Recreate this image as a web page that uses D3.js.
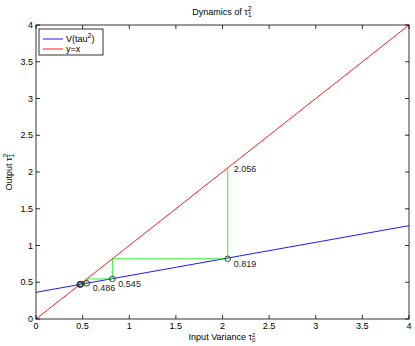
<!DOCTYPE html>
<html><head><meta charset="utf-8">
<script src="https://cdn.jsdelivr.net/npm/d3@7"></script>
<style>body{margin:0;background:#fff}svg{display:block;font-family:"Liberation Sans",Arial,sans-serif}</style>
</head><body><svg id="c" width="415" height="346"></svg>
<script>
// data
const xTicks = [0,0.5,1,1.5,2,2.5,3,3.5,4];
const yTicks = [0,0.5,1,1.5,2,2.5,3,3.5,4];
const vX = [0, 4];
const vY = [0.363, 1.27];
const identX = [0, 4];
const iterates = [2.056, 0.819, 0.545, 0.486, 0.474, 0.471, 0.470, 0.470];
const labelled = ["2.056","0.819","0.545","0.486"];

const svg = d3.select("#c");
const L=36, R=409, T=25, B=319;
const x = d3.scaleLinear().domain([0,4]).range([L,R]);
const y = d3.scaleLinear().domain([0,4]).range([B,T]);
const fs = 9;

svg.append("rect").attr("x",0).attr("y",0).attr("width",415).attr("height",346).attr("fill","#fff");

const line = d3.line().x(d=>x(d[0])).y(d=>y(d[1]));
// y=x
svg.append("path").datum(identX.map(v=>[v,v])).attr("d",line).attr("stroke","#ff0000").attr("fill","none").attr("stroke-width",0.9);
// V line
svg.append("path").datum(vX.map((v,i)=>[v,vY[i]])).attr("d",line).attr("stroke","#0000ff").attr("fill","none").attr("stroke-width",0.9);

// cobweb
const web=[];
for(let i=0;i<iterates.length-1;i++){
  const a=iterates[i], b=iterates[i+1];
  web.push([a,a]); web.push([a,b]);
}
web.push([iterates[iterates.length-1],iterates[iterates.length-1]]);
svg.append("path").datum(web).attr("d",line).attr("stroke","#00ee00").attr("fill","none").attr("stroke-width",0.8);

// circles
for(let i=0;i<iterates.length-1;i++){
  svg.append("circle").attr("cx",x(iterates[i])).attr("cy",y(iterates[i+1])).attr("r",2.8)
    .attr("fill","none").attr("stroke","#333").attr("stroke-width",0.9);
}
// labels
svg.append("text").attr("x",x(iterates[0])+6).attr("y",y(iterates[0])+4).attr("font-size",fs).attr("fill","#222").text(labelled[0]);
for(let i=1;i<4;i++){
  svg.append("text").attr("x",x(iterates[i-1])+6).attr("y",y(iterates[i])+8).attr("font-size",fs).attr("fill","#222").text(labelled[i]);
}

// axes box
svg.append("rect").attr("x",L).attr("y",T).attr("width",R-L).attr("height",B-T).attr("fill","none").attr("stroke","#000").attr("stroke-width",0.8);
const tk=4;
const g=svg.append("g").attr("stroke","#000").attr("stroke-width",0.8);
xTicks.forEach(v=>{
  g.append("line").attr("x1",x(v)).attr("x2",x(v)).attr("y1",B).attr("y2",B-tk);
  g.append("line").attr("x1",x(v)).attr("x2",x(v)).attr("y1",T).attr("y2",T+tk);
  svg.append("text").attr("x",x(v)).attr("y",B+10).attr("text-anchor","middle").attr("font-size",fs).text(String(v));
});
yTicks.forEach(v=>{
  g.append("line").attr("x1",L).attr("x2",L+tk).attr("y1",y(v)).attr("y2",y(v));
  g.append("line").attr("x1",R).attr("x2",R-tk).attr("y1",y(v)).attr("y2",y(v));
  svg.append("text").attr("x",L-3).attr("y",y(v)+3).attr("text-anchor","end").attr("font-size",fs).text(String(v));
});

// title
const t=svg.append("text").attr("x",222).attr("y",15).attr("text-anchor","middle").attr("font-size",fs);
t.append("tspan").text("Dynamics of τ");
t.append("tspan").attr("font-size",7).attr("dy",-4).text("2");
t.append("tspan").attr("font-size",7).attr("dx",-4).attr("dy",6).text("1");
// x label
const xl=svg.append("text").attr("x",222).attr("y",340).attr("text-anchor","middle").attr("font-size",fs);
xl.append("tspan").text("Input Variance τ");
xl.append("tspan").attr("font-size",6).attr("dy",-3).text("2");
xl.append("tspan").attr("font-size",6).attr("dx",-3.5).attr("dy",5).text("0");
// y label
const yl=svg.append("text").attr("transform","translate(12,172) rotate(-90)").attr("text-anchor","middle").attr("font-size",fs);
yl.append("tspan").text("Output τ");
yl.append("tspan").attr("font-size",7).attr("dy",-4).text("2");
yl.append("tspan").attr("font-size",7).attr("dx",-4).attr("dy",6).text("1");

// legend
const lg=svg.append("g");
lg.append("rect").attr("x",39).attr("y",29).attr("width",64).attr("height",26).attr("fill","#fff").attr("stroke","#000").attr("stroke-width",0.8);
const items=[["V(tau","2",")","#0000ff"],["y=x","","","#ff0000"]];
items.forEach((it,i)=>{
  const yy=39+i*10;
  lg.append("line").attr("x1",43).attr("x2",63).attr("y1",yy).attr("y2",yy).attr("stroke",it[3]).attr("stroke-width",0.9);
  const tx=lg.append("text").attr("x",66).attr("y",yy+3).attr("font-size",fs);
  tx.append("tspan").text(it[0]);
  if(it[1]){tx.append("tspan").attr("font-size",7).attr("dy",-4).text(it[1]);tx.append("tspan").attr("dy",4).text(it[2]);}
});
</script></body></html>
